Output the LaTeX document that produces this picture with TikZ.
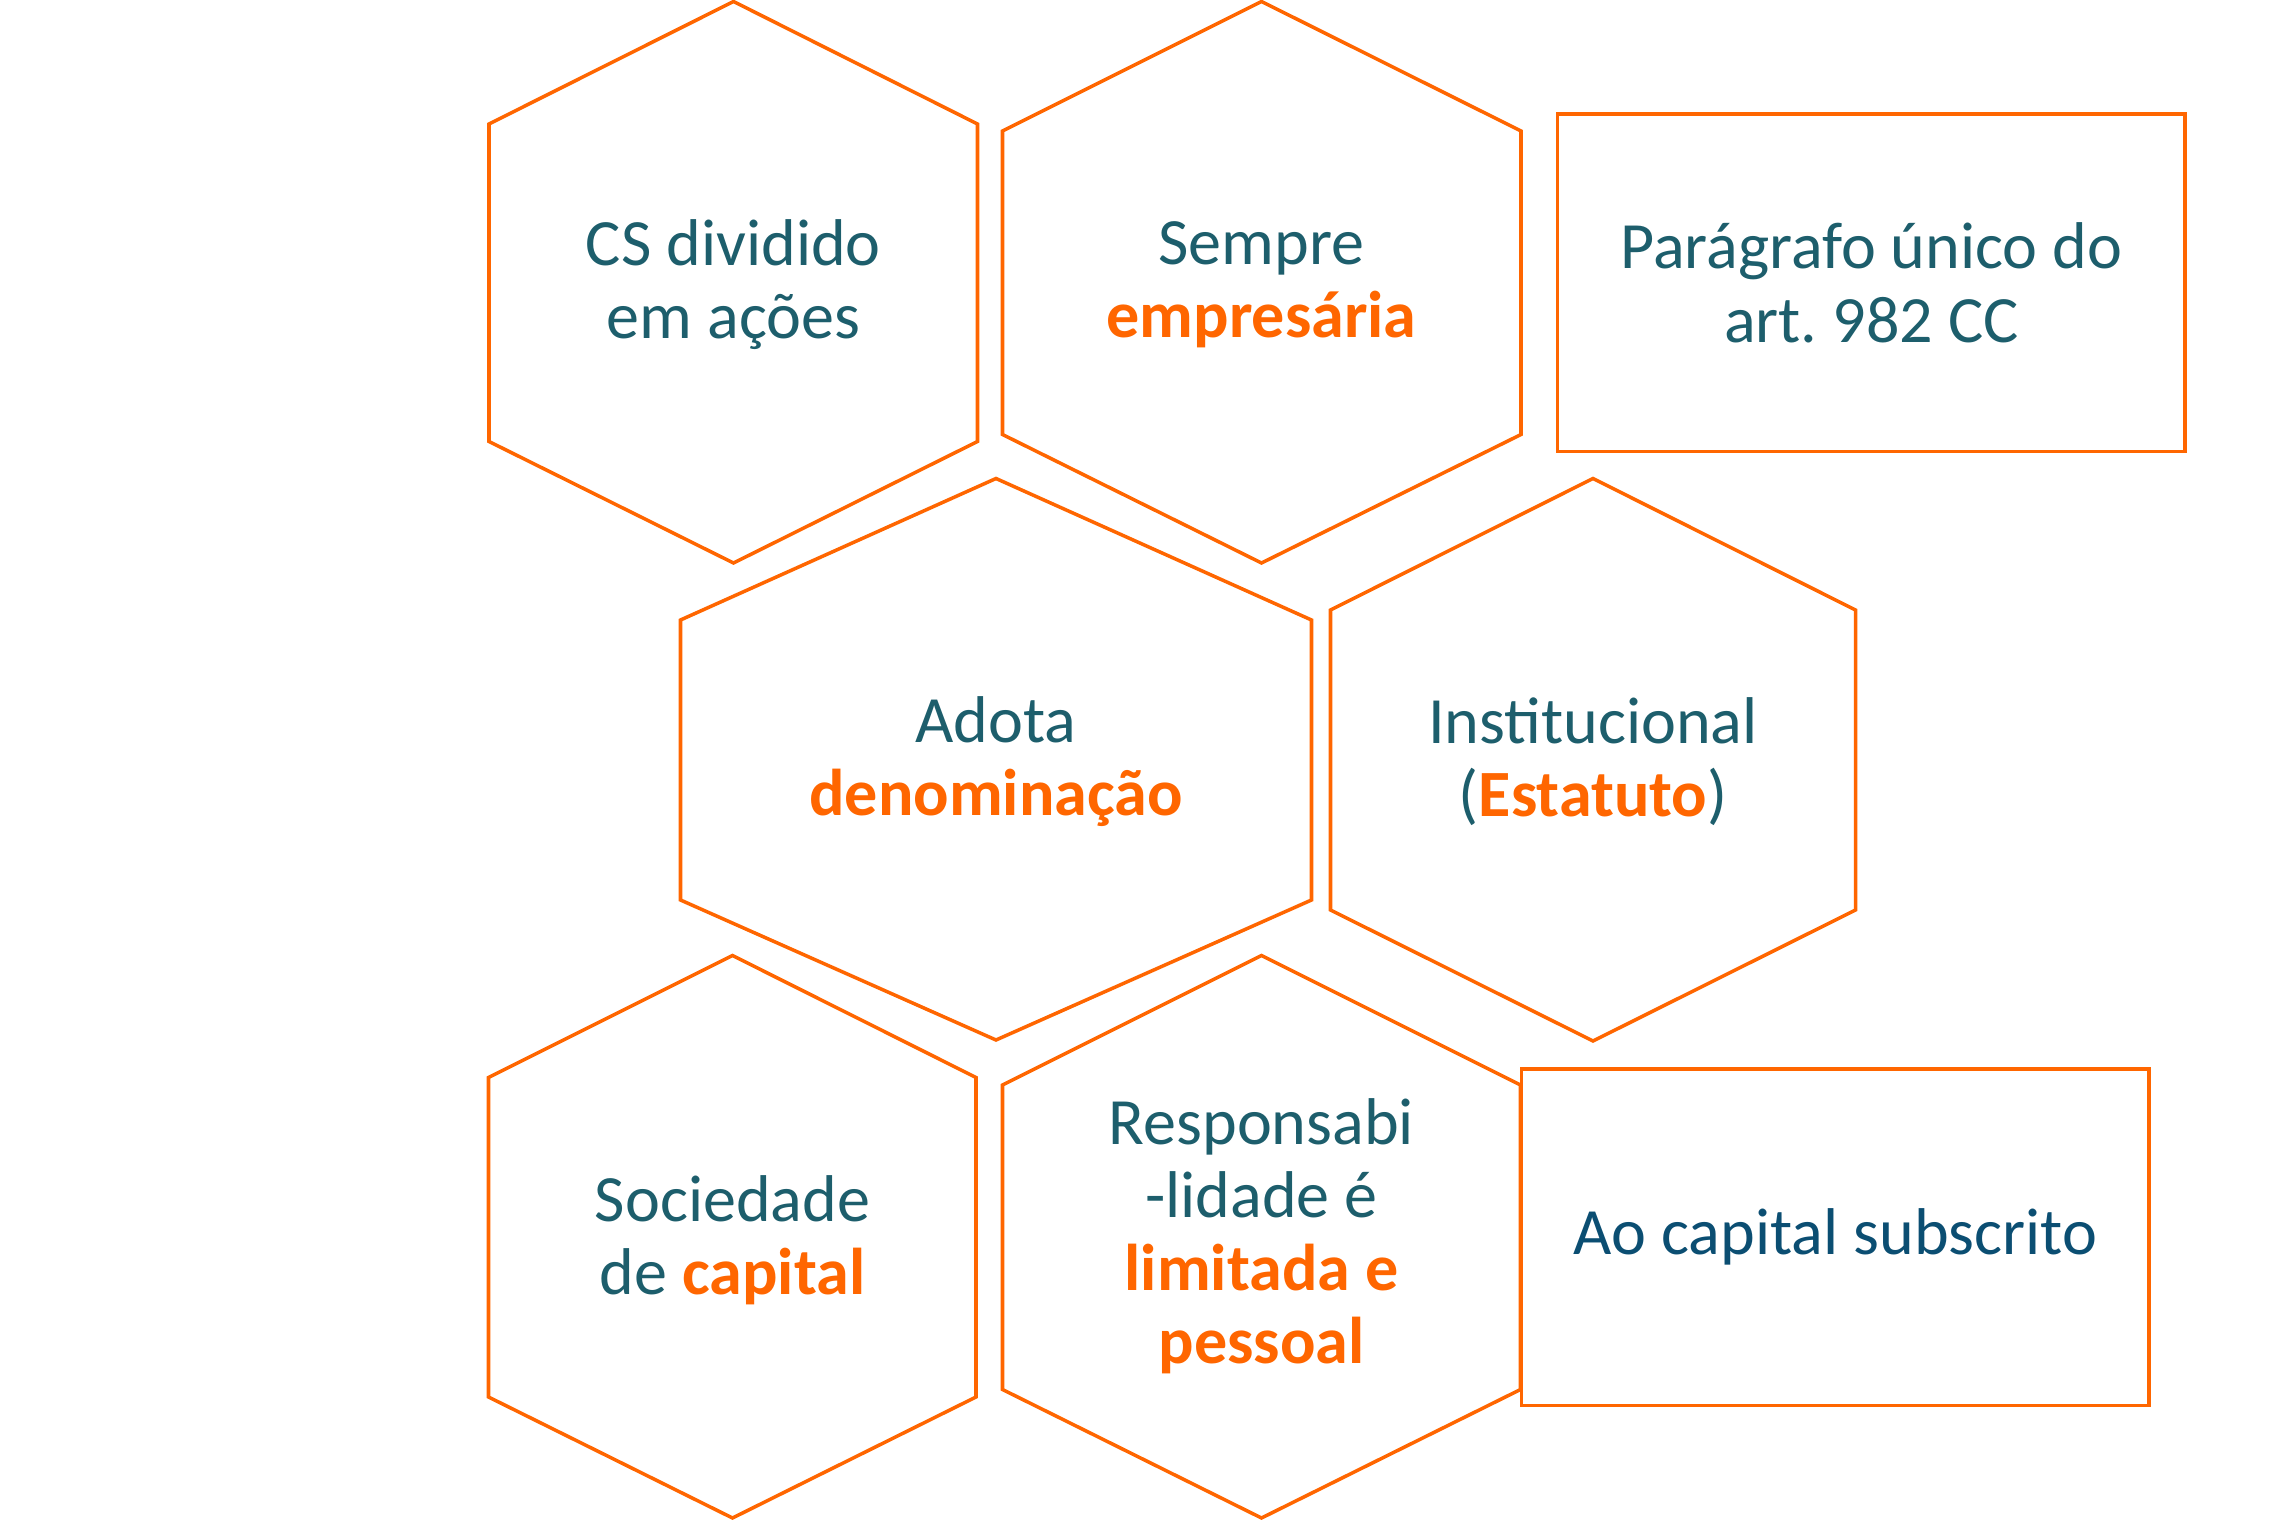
\documentclass[tikz,border=0pt]{standalone}
\usepackage{fontspec}
\setmainfont{Carlito}
\usepackage{xcolor}
\usepackage{tikz}
\usetikzlibrary{positioning}
\definecolor{HexOrange}{HTML}{FF6600}
\definecolor{HexTeal}{HTML}{1D5E6C}
\definecolor{HexBlue}{HTML}{0B4E72}
\newcommand{\hi}[1]{\textbf{\color{HexOrange}#1}}
\frenchspacing
\tikzset{
  hexline/.style={draw=HexOrange,line width=1pt,line join=miter},
  hextext/.style={align=center,text=HexTeal,inner sep=0pt,
    font=\fontsize{18.8}{20.8}\selectfont},
  notebox/.style={draw=HexOrange,fill=white,line width=1pt,align=center,
    text=HexTeal,inner sep=0pt,minimum width=6.275cm,minimum height=3.37cm,
    font=\fontsize{18.8}{20.8}\selectfont}
}
\begin{document}
\begin{tikzpicture}[x=0.01cm,y=-0.01cm]
  \fill[white] (0,0) rectangle (2274,1521);
  \useasboundingbox (0,0) rectangle (2274,1521);
  % top row
  \draw[hexline] (733.5,1.5) -- (977.5,124) -- (977.5,441.5) -- (733.5,563)
    -- (489,441.5) -- (489,124) -- cycle;
  \node[hextext] (acoes) at (733.5,285) {CS dividido\\em ações};
  \draw[hexline] (1261.5,1.5) -- (1521,131) -- (1521,434.5) -- (1261.5,563)
    -- (1002.5,434.5) -- (1002.5,131) -- cycle;
  \node[hextext] (empresaria) at (1261.5,285) {Sempre\\\hi{empresária}};
  \node[notebox] (paragrafo) at (1871.25,282.75)
    {Parágrafo único do\\art. 982 CC};
  % middle row
  \draw[hexline] (996,478.5) -- (1311.5,620) -- (1311.5,900) -- (996,1040)
    -- (680.5,900) -- (680.5,620) -- cycle;
  \node[hextext] (denominacao) at (996,762) {Adota\\\hi{denominação}};
  \draw[hexline] (1593,478.5) -- (1855.5,610) -- (1855.5,910) -- (1593,1041)
    -- (1330.5,910) -- (1330.5,610) -- cycle;
  \node[hextext] (estatuto) at (1593,762) {Institucional\\(\hi{Estatuto})};
  % bottom row
  \draw[hexline] (732.5,955.5) -- (976,1077.5) -- (976,1397) -- (732.5,1518)
    -- (488.5,1397) -- (488.5,1077.5) -- cycle;
  \node[hextext] (capital) at (732.5,1240) {Sociedade\\de \hi{capital}};
  \draw[hexline] (1261.5,955.5) -- (1520.5,1085) -- (1520.5,1389.5) -- (1261.5,1518)
    -- (1002.5,1389.5) -- (1002.5,1085) -- cycle;
  \node[hextext] (pessoal) at (1261.5,1236)
    {Responsabi\\-lidade é\\\hi{limitada e}\\\hi{pessoal}};
  \node[notebox,text=HexBlue,minimum height=3.365cm] (subscrito) at (1835.25,1237.25)
    {Ao capital subscrito};
\end{tikzpicture}
\end{document}
